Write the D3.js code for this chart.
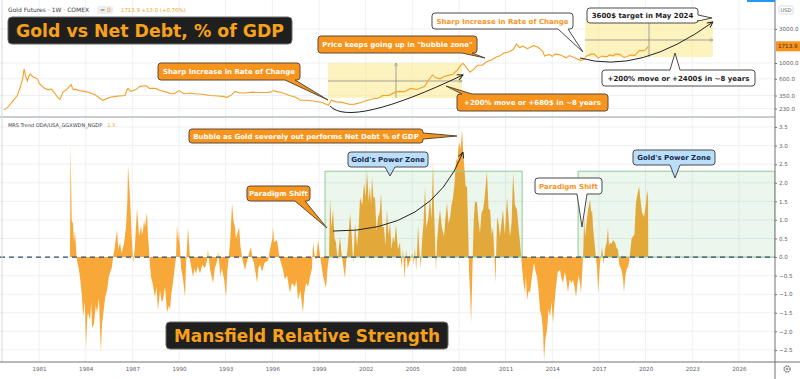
<!DOCTYPE html>
<html>
<head>
<meta charset="utf-8">
<script src="https://cdn.jsdelivr.net/npm/d3@7"></script>
<style>
  body { margin: 0; background: #fff; }
  svg { display: block; font-family: "DejaVu Sans", Verdana, sans-serif; }
</style>
</head>
<body>
<div id="chart"></div>
<script>
// Gold futures weekly close, [decimal year, USD]
const goldSeries = [
  [1978.75,220],[1979.0,240],[1979.3,290],[1979.6,350],[1979.78,450],[1979.95,600],[1980.04,830],
  [1980.15,640],[1980.25,560],[1980.35,660],[1980.45,700],[1980.6,640],[1980.74,620],[1980.9,600],
  [1981.0,520],[1981.3,450],[1981.58,420],[1981.8,430],[1982.0,380],[1982.2,330],[1982.35,310],
  [1982.54,390],[1982.8,430],[1983.06,500],[1983.2,420],[1983.3,430],[1983.6,410],[1983.96,400],
  [1984.3,380],[1984.6,360],[1984.9,320],[1985.1,300],[1985.4,320],[1985.6,330],[1985.89,340],
  [1986.2,345],[1986.53,350],[1986.65,420],[1986.72,440],[1986.9,400],[1987.2,420],[1987.5,470],
  [1987.9,480],[1988.1,440],[1988.5,440],[1988.8,410],[1989.2,390],[1989.5,370],[1989.7,370],
  [1990.0,410],[1990.3,370],[1990.7,380],[1991.0,370],[1991.5,365],[1992.0,350],[1992.5,345],
  [1992.8,340],[1993.1,330],[1993.4,360],[1993.6,400],[1993.9,380],[1994.25,380],[1994.7,390],
  [1995.2,385],[1995.6,385],[1995.85,390],[1996.1,410],[1996.2,400],[1996.6,385],[1997.1,350],
  [1997.5,330],[1997.8,300],[1998.2,300],[1998.7,290],[1999.2,280],[1999.6,255],[1999.8,300],
  [2000.1,285],[2000.5,280],[2001.0,262],[2001.3,265],[2001.7,280],[2002.1,300],[2002.5,315],
  [2002.8,320],[2003.1,350],[2003.5,350],[2003.9,390],[2004.2,400],[2004.5,395],[2004.9,440],
  [2005.3,425],[2005.8,470],[2006.0,560],[2006.3,680],[2006.5,620],[2006.8,600],[2007.0,640],
  [2007.3,670],[2007.6,690],[2007.9,800],[2008.1,920],[2008.26,990],[2008.45,880],[2008.7,740],
  [2008.9,800],[2009.2,930],[2009.5,930],[2009.8,1050],[2010.1,1100],[2010.4,1210],[2010.6,1250],
  [2010.9,1380],[2011.2,1430],[2011.5,1560],[2011.7,1850],[2011.9,1650],[2012.1,1720],[2012.4,1590],
  [2012.8,1750],[2013.1,1660],[2013.4,1450],[2013.5,1250],[2013.8,1320],[2014.0,1240],[2014.2,1340],
  [2014.5,1300],[2014.9,1180],[2015.1,1270],[2015.5,1170],[2015.8,1090],[2016.0,1110],[2016.2,1250],
  [2016.5,1330],[2016.7,1330],[2016.95,1170],[2017.2,1250],[2017.5,1220],[2017.7,1300],[2017.9,1260],
  [2018.1,1340],[2018.35,1310],[2018.6,1200],[2018.8,1220],[2019.0,1290],[2019.3,1280],[2019.5,1420],
  [2019.6,1500],[2019.8,1480],[2019.97,1520],[2020.05,1580],[2020.12,1640],[2020.16,1714]
];

// Mansfield relative strength of gold vs US net debt % of GDP, [decimal year, value]
const mrsSeries = [
  [1982.99,0],[1983.03,3.05],[1983.1,1.0],[1983.18,0.9],[1983.25,0.4],[1983.31,0.7],[1983.4,0.1],
  [1983.44,-0.1],[1983.55,-0.3],[1983.63,-0.54],[1983.75,-1.0],[1983.83,-1.6],[1983.95,-1.2],
  [1984.02,-2.45],[1984.1,-1.6],[1984.15,-1.5],[1984.28,-1.7],[1984.35,-1.2],[1984.41,-1.9],
  [1984.53,-1.8],[1984.65,-1.3],[1984.73,-1.5],[1984.85,-1.1],[1984.98,-2.55],[1985.05,-1.8],
  [1985.11,-1.6],[1985.25,-1.1],[1985.37,-0.9],[1985.5,-0.5],[1985.69,-0.27],[1985.76,0],
  [1985.85,0.2],[1986.01,0.73],[1986.1,0.2],[1986.21,0.4],[1986.3,0.1],[1986.46,0.35],[1986.59,0.8],
  [1986.68,1.5],[1986.72,2.5],[1986.8,1.9],[1986.85,1.6],[1986.92,0.9],[1986.98,0.35],[1987.05,-0.15],
  [1987.15,0.2],[1987.3,1.3],[1987.38,0.9],[1987.43,0.55],[1987.56,0.85],[1987.62,0.6],[1987.68,0.7],
  [1987.75,1.0],[1987.81,0.8],[1987.94,1.2],[1988.0,0.6],[1988.07,0.2],[1988.13,-0.2],[1988.2,-0.54],
  [1988.3,-0.7],[1988.46,-1.08],[1988.55,-0.8],[1988.65,-1.43],[1988.78,-0.9],[1988.88,-1.2],
  [1988.97,-1.16],[1989.1,-0.8],[1989.23,-1.49],[1989.35,-1.3],[1989.42,-1.43],[1989.5,-1.0],
  [1989.61,-0.7],[1989.75,-0.2],[1989.81,0],[1989.87,0.86],[1989.95,0.4],[1990.0,0.73],[1990.08,0.1],
  [1990.13,-0.3],[1990.26,-0.6],[1990.39,-1.08],[1990.45,-0.2],[1990.52,0.3],[1990.58,0.8],
  [1990.65,0.35],[1990.71,-0.1],[1990.8,-0.3],[1990.9,-0.54],[1991.0,-0.3],[1991.1,-0.45],
  [1991.2,-0.25],[1991.35,-0.44],[1991.5,-0.2],[1991.67,-0.3],[1991.8,-0.1],[1991.86,0.2],
  [1992.0,-0.35],[1992.19,-0.7],[1992.3,-0.3],[1992.45,-0.1],[1992.51,0.15],[1992.6,-0.2],
  [1992.64,-0.54],[1992.75,-0.3],[1992.9,-0.6],[1993.02,-1.08],[1993.1,-0.4],[1993.2,0],[1993.3,0.5],
  [1993.41,1.45],[1993.5,1.0],[1993.6,0.8],[1993.66,0.5],[1993.73,0.6],[1993.86,0.8],[1993.95,0.3],
  [1994.05,0],[1994.15,-0.2],[1994.24,-0.35],[1994.35,-0.15],[1994.5,0.1],[1994.63,0.27],
  [1994.72,-0.05],[1994.82,-0.15],[1995.02,-0.7],[1995.1,-0.3],[1995.21,-0.2],[1995.34,-0.4],
  [1995.5,-0.15],[1995.72,-0.1],[1995.85,0.2],[1996.0,0.5],[1996.04,0.8],[1996.12,0.4],[1996.3,0.46],
  [1996.42,0.1],[1996.49,-0.05],[1996.69,-0.35],[1996.8,-0.6],[1996.95,-0.5],[1997.14,-0.97],
  [1997.25,-0.7],[1997.46,-0.8],[1997.55,-0.6],[1997.65,-1.16],[1997.8,-0.9],[1997.97,-1.5],
  [1998.05,-1.0],[1998.17,-0.7],[1998.3,-0.8],[1998.42,-0.54],[1998.55,-0.3],[1998.62,0.4],
  [1998.7,0.1],[1998.81,-0.1],[1998.94,0.46],[1999.05,0.1],[1999.15,-0.2],[1999.26,-0.5],
  [1999.45,-0.84],[1999.55,-0.3],[1999.65,0],[1999.71,1.6],[1999.8,0.8],[1999.9,1.27],[2000.0,0.5],
  [2000.09,0.4],[2000.2,-0.1],[2000.35,0.55],[2000.45,0.1],[2000.55,-0.2],[2000.67,-0.57],
  [2000.75,-0.1],[2000.85,0.3],[2001.0,1.19],[2001.1,0.6],[2001.2,-0.2],[2001.32,0.9],[2001.45,0.3],
  [2001.55,0.8],[2001.64,1.6],[2001.78,1.4],[2001.9,2.0],[2002.0,1.6],[2002.09,2.3],[2002.2,1.5],
  [2002.28,1.9],[2002.35,1.4],[2002.41,2.16],[2002.5,1.6],[2002.6,1.6],[2002.7,0.7],[2002.8,1.08],
  [2002.9,1.2],[2002.99,1.73],[2003.08,0.8],[2003.18,0.8],[2003.27,0.3],[2003.37,1.27],[2003.47,0.6],
  [2003.57,0.92],[2003.66,0.2],[2003.76,0.55],[2003.85,0.4],[2003.95,0.86],[2004.08,0.2],[2004.21,0.4],
  [2004.3,-0.3],[2004.4,0.2],[2004.5,-0.6],[2004.6,0.2],[2004.7,-0.3],[2004.85,-0.1],[2005.0,0.1],
  [2005.1,-0.2],[2005.17,0.27],[2005.25,-0.4],[2005.37,0.86],[2005.45,0.2],[2005.55,-0.3],
  [2005.62,0.4],[2005.72,0.9],[2005.82,1.9],[2005.9,0.8],[2006.01,1.0],[2006.08,1.3],[2006.14,1.6],
  [2006.24,1.0],[2006.33,2.57],[2006.4,1.2],[2006.46,0.55],[2006.52,-0.4],[2006.59,0.4],[2006.68,0.9],
  [2006.78,1.27],[2006.9,0.8],[2007.04,0.55],[2007.12,1.0],[2007.23,1.46],[2007.33,0.9],[2007.43,1.08],
  [2007.52,1.4],[2007.62,1.6],[2007.72,2.0],[2007.81,2.6],[2007.9,2.6],[2008.0,3.1],[2008.1,2.9],
  [2008.2,3.43],[2008.27,2.8],[2008.33,2.5],[2008.43,1.9],[2008.52,1.9],[2008.6,0.6],[2008.65,-0.4],
  [2008.72,-1.0],[2008.78,-1.78],[2008.85,-0.6],[2008.9,0.2],[2008.95,1.0],[2009.03,1.5],[2009.16,1.46],
  [2009.25,1.0],[2009.35,0.65],[2009.45,1.2],[2009.55,1.27],[2009.65,1.6],[2009.8,2.3],[2009.9,1.3],
  [2010.0,1.27],[2010.1,0.6],[2010.19,0.8],[2010.3,-0.2],[2010.35,-0.7],[2010.45,1.08],[2010.55,0.9],
  [2010.64,0.55],[2010.75,1.0],[2010.83,1.27],[2010.95,0.6],[2011.09,1.6],[2011.2,1.0],[2011.28,0.55],
  [2011.38,0.9],[2011.48,2.27],[2011.6,1.4],[2011.73,1.27],[2011.85,0.7],[2011.93,0.37],[2012.0,0],
  [2012.06,-0.3],[2012.15,-0.7],[2012.25,-0.97],[2012.3,-0.5],[2012.38,-1.16],[2012.48,-0.9],
  [2012.57,-0.97],[2012.7,-0.5],[2012.83,-0.15],[2012.93,-0.4],[2013.02,-0.54],[2013.12,-0.9],
  [2013.21,-1.43],[2013.32,-1.6],[2013.41,-2.05],[2013.47,-2.78],[2013.56,-2.2],[2013.66,-1.97],
  [2013.76,-1.4],[2013.86,-1.6],[2013.95,-1.2],[2014.05,-1.78],[2014.15,-1.2],[2014.24,-0.8],
  [2014.35,-0.4],[2014.5,-0.35],[2014.6,-0.6],[2014.69,-0.7],[2014.8,-0.4],[2014.88,-0.54],
  [2015.01,-0.95],[2015.12,-0.6],[2015.22,-0.7],[2015.33,-0.62],[2015.43,-0.8],[2015.53,-1.08],
  [2015.62,-0.7],[2015.7,-0.5],[2015.78,-0.7],[2015.85,-0.97],[2015.95,-0.2],[2016.0,0.2],
  [2016.04,1.08],[2016.11,0.55],[2016.2,0.9],[2016.3,1.27],[2016.43,1.54],[2016.5,1.2],[2016.56,1.27],
  [2016.62,0.8],[2016.68,0.55],[2016.78,0.1],[2016.88,-0.3],[2016.95,-0.97],[2017.07,-0.15],
  [2017.15,0.1],[2017.2,0.27],[2017.3,-0.2],[2017.39,0.2],[2017.5,0.4],[2017.58,0.8],[2017.65,0.3],
  [2017.71,0.4],[2017.8,0.35],[2017.91,0.46],[2018.03,0.4],[2018.13,0.25],[2018.23,0.2],[2018.3,-0.2],
  [2018.45,-0.35],[2018.55,-0.6],[2018.61,-0.95],[2018.7,-0.5],[2018.8,-0.3],[2018.87,-0.27],
  [2018.95,-0.1],[2019.0,0.1],[2019.1,0.5],[2019.19,0.55],[2019.28,0.6],[2019.38,1.46],[2019.48,1.7],
  [2019.58,1.9],[2019.68,1.5],[2019.77,1.2],[2019.9,1.08],[2020.03,1.46],[2020.1,1.8],[2020.16,1.6],
  [2020.17,0]
];

const yearTicks = [1981, 1984, 1987, 1990, 1993, 1996, 1999, 2002, 2005, 2008, 2011, 2014, 2017, 2020, 2023, 2026];
const priceTicks = [3000, 1000, 600, 350, 230];
const mrsTicks = [3.5, 3, 2.5, 2, 1.5, 1, 0.5, 0, -0.5, -1, -1.5, -2, -2.5];
const lastPrice = 1713.9;

// drawing tools (date/price range boxes and green zones), in data units
const priceRanges = [
  { from: 1999.58, to: 2008.2, low: 323, high: 1000, mid: 559, at: 2003.95 },
  { from: 2016.11, to: 2024.33, low: 1214, high: 4009, mid: 2102, at: 2020.22 }
];
const powerZones = [
  { from: 1999.39, to: 2012.06, top: 2.31 },
  { from: 2015.66, to: 2028.32, top: 2.31 }
];

const width = 800, height = 379, plotW = 775;
const topY0 = 0, topY1 = 117, botY0 = 117, botY1 = 362;

const svg = d3.select("#chart").append("svg")
  .attr("width", width).attr("height", height);

svg.append("rect").attr("width", width).attr("height", height).attr("fill", "#fff");

const x = d3.scaleLinear().domain([1978.49, 2028.32]).range([0, plotW]);
const yP = d3.scaleLog().domain([174.8, 7648]).range([topY1, topY0]);
const yM = d3.scaleLinear().domain([-2.825, 3.77]).range([botY1, botY0]);

const defs = svg.append("defs");
defs.append("clipPath").attr("id", "clipTop").append("rect")
  .attr("x", 0).attr("y", topY0).attr("width", plotW).attr("height", topY1 - topY0);
defs.append("clipPath").attr("id", "clipBot").append("rect")
  .attr("x", 0).attr("y", botY0).attr("width", plotW).attr("height", botY1 - botY0);
defs.append("marker").attr("id", "arrowHead")
  .attr("viewBox", "0 0 10 10").attr("refX", 9).attr("refY", 5)
  .attr("markerWidth", 7).attr("markerHeight", 7).attr("orient", "auto")
  .append("path").attr("d", "M1,1 L9,5 L1,9").attr("fill", "none")
  .attr("stroke", "#222").attr("stroke-width", 1.4);
defs.append("marker").attr("id", "smallHead")
  .attr("viewBox", "0 0 10 10").attr("refX", 9).attr("refY", 5)
  .attr("markerWidth", 5).attr("markerHeight", 5).attr("orient", "auto")
  .append("path").attr("d", "M1,1 L9,5 L1,9").attr("fill", "none")
  .attr("stroke", "#8a8a8a").attr("stroke-width", 1.4);

// grid
const grid = svg.append("g").attr("stroke", "#eef0f4").attr("stroke-width", 1);
yearTicks.forEach(t => {
  grid.append("line").attr("x1", x(t)).attr("x2", x(t)).attr("y1", 0).attr("y2", botY1);
});
priceTicks.forEach(t => {
  grid.append("line").attr("x1", 0).attr("x2", plotW).attr("y1", yP(t)).attr("y2", yP(t));
});
mrsTicks.forEach(t => {
  grid.append("line").attr("x1", 0).attr("x2", plotW).attr("y1", yM(t)).attr("y2", yM(t));
});

// ---- top panel ----
const topG = svg.append("g").attr("clip-path", "url(#clipTop)");

priceRanges.forEach(r => {
  topG.append("rect")
    .attr("x", x(r.from)).attr("y", yP(r.high))
    .attr("width", x(r.to) - x(r.from)).attr("height", yP(r.low) - yP(r.high))
    .attr("fill", "#fbe98a").attr("fill-opacity", 0.55);
  topG.append("line")
    .attr("x1", x(r.from)).attr("x2", x(r.to)).attr("y1", yP(r.mid)).attr("y2", yP(r.mid))
    .attr("stroke", "#8a8a8a").attr("stroke-width", 0.8).attr("marker-end", "url(#smallHead)");
  topG.append("line")
    .attr("x1", x(r.at)).attr("x2", x(r.at)).attr("y1", yP(r.low)).attr("y2", yP(r.high))
    .attr("stroke", "#8a8a8a").attr("stroke-width", 0.8).attr("marker-end", "url(#smallHead)");
});

topG.append("path")
  .datum(goldSeries)
  .attr("fill", "none")
  .attr("stroke", "#f2a12c")
  .attr("stroke-width", 1.1)
  .attr("d", d3.line().x(d => x(d[0])).y(d => yP(d[1])));

// ---- bottom panel ----
const botG = svg.append("g").attr("clip-path", "url(#clipBot)");

botG.append("path")
  .datum(mrsSeries)
  .attr("fill", "#f7a838")
  .attr("d", d3.area().x(d => x(d[0])).y0(yM(0)).y1(d => yM(d[1])));

powerZones.forEach(z => {
  botG.append("rect")
    .attr("x", x(z.from)).attr("y", yM(z.top))
    .attr("width", x(z.to) - x(z.from)).attr("height", yM(0) - yM(z.top))
    .attr("fill", "#4caf50").attr("fill-opacity", 0.11)
    .attr("stroke", "#8fc99a").attr("stroke-width", 1);
});

botG.append("line")
  .attr("x1", 0).attr("x2", plotW).attr("y1", yM(0)).attr("y2", yM(0))
  .attr("stroke", "#2f4b6e").attr("stroke-width", 1.3).attr("stroke-dasharray", "5,4");

// panel borders
svg.append("line").attr("x1", 0).attr("x2", plotW).attr("y1", topY1).attr("y2", topY1)
  .attr("stroke", "#c9ccd2").attr("stroke-width", 2);
svg.append("line").attr("x1", 2).attr("x2", 2).attr("y1", 0).attr("y2", botY1)
  .attr("stroke", "#d6d8dd").attr("stroke-width", 1);
svg.append("line").attr("x1", 0).attr("x2", width).attr("y1", botY1).attr("y2", botY1)
  .attr("stroke", "#6f7378").attr("stroke-width", 1);
svg.append("line").attr("x1", plotW).attr("x2", plotW).attr("y1", 0).attr("y2", height)
  .attr("stroke", "#6f7378").attr("stroke-width", 1);

// axes
function styleAxis(g) {
  g.select(".domain").remove();
  g.selectAll(".tick line").attr("stroke", "#6f7378");
  g.selectAll(".tick text").attr("fill", "#5d6066").style("font-size", "5.6px")
    .style("font-family", "'DejaVu Sans', sans-serif");
}
svg.append("g").attr("transform", `translate(${plotW},0)`)
  .call(d3.axisRight(yP).tickValues(priceTicks).tickFormat(d3.format(".1f")).tickSize(2).tickPadding(2))
  .call(styleAxis);
svg.append("g").attr("transform", `translate(${plotW},0)`)
  .call(d3.axisRight(yM).tickValues(mrsTicks)
    .tickFormat(d => (d < 0 ? "\u2212" : "") + d3.format(".1f")(Math.abs(d))).tickSize(2).tickPadding(2))
  .call(styleAxis);
svg.append("g").attr("transform", `translate(0,${botY1})`)
  .call(d3.axisBottom(x).tickValues(yearTicks).tickFormat(d3.format("d")).tickSize(0).tickPadding(5))
  .call(styleAxis);

// price label + currency
svg.append("rect").attr("x", plotW + 1).attr("y", yP(lastPrice) - 5).attr("width", 24).attr("height", 10)
  .attr("fill", "#f7941d");
svg.append("text").attr("x", plotW + 3).attr("y", yP(lastPrice) + 2).text(d3.format(".1f")(lastPrice))
  .attr("font-size", 5.6).attr("fill", "#3b2a10");
svg.append("rect").attr("x", plotW + 4).attr("y", 6).attr("width", 14).attr("height", 8).attr("rx", 1.5)
  .attr("fill", "#fff").attr("stroke", "#c9ccd2").attr("stroke-width", 0.7);
svg.append("text").attr("x", plotW + 11).attr("y", 12).attr("text-anchor", "middle").text("USD")
  .attr("font-size", 5.2).attr("fill", "#5d6066");
svg.append("rect").attr("x", 747).attr("y", 0).attr("width", 28).attr("height", 2).attr("fill", "#2196f3");

// gear icon
svg.append("circle").attr("cx", 787).attr("cy", 369).attr("r", 3).attr("fill", "none")
  .attr("stroke", "#6f7378").attr("stroke-width", 1.3).attr("stroke-dasharray", "1.6,0.8");
svg.append("circle").attr("cx", 787).attr("cy", 369).attr("r", 1).attr("fill", "none")
  .attr("stroke", "#6f7378").attr("stroke-width", 0.8);

// legends
const lg = svg.append("g").attr("font-family", "'DejaVu Sans', sans-serif");
lg.append("text").attr("x", 8).attr("y", 12).attr("fill", "#3a3d42").attr("font-size", 6)
  .text("Gold Futures \u00b7 1W \u00b7 COMEX");
lg.append("rect").attr("x", 97).attr("y", 6).attr("width", 16).attr("height", 8).attr("rx", 2).attr("fill", "#eceef2");
lg.append("text").attr("x", 100).attr("y", 12).attr("fill", "#777").attr("font-size", 6).text("=");
lg.append("text").attr("x", 107).attr("y", 12).attr("fill", "#f7941d").attr("font-size", 6).text("0");
lg.append("text").attr("x", 121).attr("y", 12).attr("fill", "#f2a12c").attr("font-size", 5.4)
  .text("1713.9  +13.0 (+0.76%)");
const mrsLabel = lg.append("text").attr("x", 8).attr("y", 127).attr("fill", "#3a3d42").attr("font-size", 5)
  .text("MRS Trend ODA/USA_GGXWDN_NGDP");
const mrsEnd = 8 + mrsLabel.node().getComputedTextLength();
lg.append("text").attr("x", mrsEnd + 5).attr("y", 127).attr("fill", "#f2a12c").attr("font-size", 5).text("1.3");

// curved arrows (quadratic, in data units)
const topArrows = [
  { s: [1999.71, 249], c: [2001.06, 122], e: [2008.26, 680] },
  { s: [2015.78, 1175], c: [2019.64, 680], e: [2024.33, 3758] }
];
topArrows.forEach(a => {
  svg.append("path")
    .attr("d", `M${x(a.s[0])},${yP(a.s[1])} Q${x(a.c[0])},${yP(a.c[1])} ${x(a.e[0])},${yP(a.e[1])}`)
    .attr("fill", "none").attr("stroke", "#222").attr("stroke-width", 1)
    .attr("marker-end", "url(#arrowHead)");
});
const botArrow = { s: [1999.9, 0.70], c: [2006.27, 0.67], e: [2008.26, 2.82] };
svg.append("path")
  .attr("d", `M${x(botArrow.s[0])},${yM(botArrow.s[1])} Q${x(botArrow.c[0])},${yM(botArrow.c[1])} ${x(botArrow.e[0])},${yM(botArrow.e[1])}`)
  .attr("fill", "none").attr("stroke", "#222").attr("stroke-width", 1)
  .attr("marker-end", "url(#arrowHead)");

// callouts
const ORANGE = { fill: "#f7941d", stroke: "#5a4a3a", color: "#ffffff" };
const WHITE_O = { fill: "#ffffff", stroke: "#4a4a4a", color: "#f7941d" };
const WHITE_K = { fill: "#ffffff", stroke: "#4a4a4a", color: "#1e1e1e" };
const BLUE = { fill: "#bbdefb", stroke: "#4a4a4a", color: "#172b4d" };

function callout(box, tip, style, label) {
  const [x0, y0, x1, y1] = box, [tx, ty] = tip, r = 3, hw = 5;
  const cl = (v, a, b) => Math.max(a, Math.min(b, v));
  let top = "", right = "", bottom = "", left = "";
  if (ty > y1) {
    const cx = cl(tx, x0 + 10, x1 - 10);
    bottom = `L${cx + hw},${y1} L${tx},${ty} L${cx - hw},${y1} `;
  } else if (ty < y0) {
    const cx = cl(tx, x0 + 10, x1 - 10);
    top = `L${cx - hw},${y0} L${tx},${ty} L${cx + hw},${y0} `;
  } else if (tx > x1) {
    const cy = cl(ty, y0 + 5, y1 - 5);
    right = `L${x1},${cy - 3} L${tx},${ty} L${x1},${cy + 3} `;
  } else {
    const cy = cl(ty, y0 + 5, y1 - 5);
    left = `L${x0},${cy + 3} L${tx},${ty} L${x0},${cy - 3} `;
  }
  const d = `M${x0 + r},${y0} ${top}L${x1 - r},${y0} Q${x1},${y0} ${x1},${y0 + r} ${right}` +
    `L${x1},${y1 - r} Q${x1},${y1} ${x1 - r},${y1} ${bottom}L${x0 + r},${y1} Q${x0},${y1} ${x0},${y1 - r} ${left}` +
    `L${x0},${y0 + r} Q${x0},${y0} ${x0 + r},${y0} Z`;
  svg.append("path").attr("d", d).attr("fill", style.fill).attr("stroke", style.stroke).attr("stroke-width", 1);
  svg.append("text")
    .attr("x", (x0 + x1) / 2).attr("y", (y0 + y1) / 2 + 2.5)
    .attr("text-anchor", "middle").attr("font-size", 7).attr("font-weight", "bold")
    .attr("fill", style.color).text(label);
}

callout([158, 63, 300, 80], [328, 100], ORANGE, "Sharp Increase in Rate of Change");
callout([318, 36, 477, 53], [485, 58], ORANGE, "Price keeps going up in \"bubble zone\"");
callout([457, 94, 608, 111], [446, 86], ORANGE, "+200% move or +680$ in ~8 years");
callout([432, 13, 573, 29], [583, 52], WHITE_O, "Sharp Increase in Rate of Change");
callout([587, 8, 698, 23], [712, 18], WHITE_K, "3600$ target in May 2024");
callout([602, 70, 755, 86], [675, 53], WHITE_K, "+200% move or +2400$ in ~8 years");
callout([189, 129, 423, 143], [457, 136], ORANGE, "Bubble as Gold severely out performs Net Debt % of GDP");
callout([348, 152, 428, 167], [390, 176], BLUE, "Gold's Power Zone");
callout([247, 186, 310, 201], [327, 228], ORANGE, "Paradigm Shift");
callout([535, 178, 602, 194], [582, 227], WHITE_O, "Paradigm Shift");
callout([633, 150, 715, 165], [675, 178], BLUE, "Gold's Power Zone");

// big title boxes
function titleBox(box, label) {
  const [x0, y0, x1, y1] = box;
  svg.append("rect").attr("x", x0).attr("y", y0).attr("width", x1 - x0).attr("height", y1 - y0)
    .attr("rx", 4).attr("fill", "#1f1f1f").attr("stroke", "#6a6a6a").attr("stroke-width", 1);
  svg.append("text").attr("x", (x0 + x1) / 2).attr("y", (y0 + y1) / 2 + 6)
    .attr("text-anchor", "middle").attr("font-size", 17).attr("font-weight", "bold")
    .attr("fill", "#f7a11a").attr("textLength", x1 - x0 - 16).attr("lengthAdjust", "spacingAndGlyphs")
    .text(label);
}
titleBox([8, 17, 292, 44], "Gold vs Net Debt, % of GDP");
titleBox([166, 322, 448, 349], "Mansfield Relative Strength");
</script>
</body>
</html>
